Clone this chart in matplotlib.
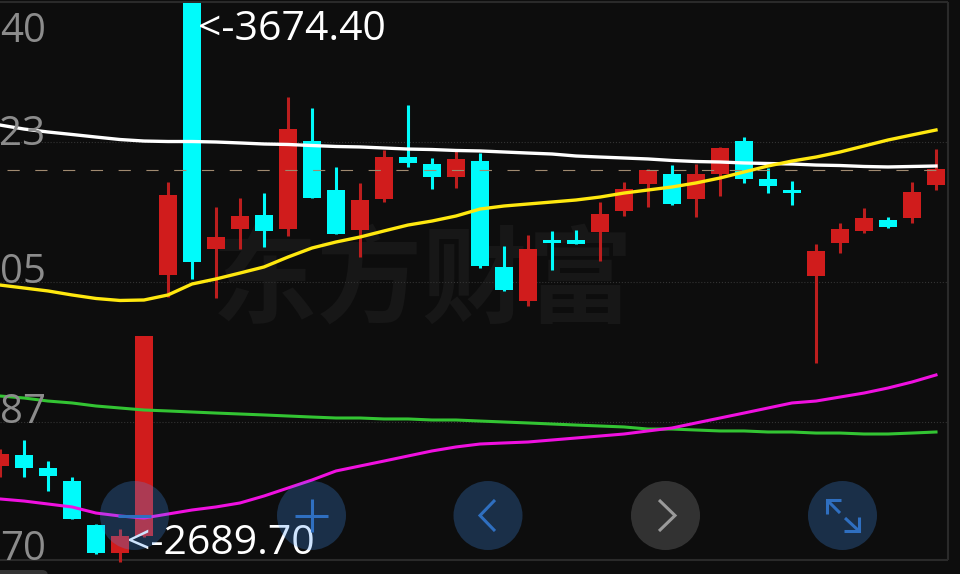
#!/usr/bin/env python3
"""Dark candlestick chart with four moving averages and touch buttons."""
import matplotlib
matplotlib.use("Agg")
import matplotlib.pyplot as plt
from matplotlib.patches import Circle, FancyBboxPatch

opens = [3482.0, 3483.38, 3481.75, 3480.12, 3474.62, 3471.12, 3473.25, 3505.88,
         3539.88, 3509.12, 3511.62, 3513.38, 3511.62, 3522.62, 3516.5, 3511.5,
         3515.38, 3520.62, 3519.75, 3518.12, 3520.12, 3506.88, 3502.62, 3510.25,
         3510.25, 3511.25, 3513.88, 3517.25, 3518.5, 3515.38, 3518.5, 3522.62,
         3517.88, 3516.5, 3505.75, 3509.88, 3511.38, 3512.75, 3513.0, 3517.12]
highs = [3484.12, 3485.25, 3482.62, 3480.62, 3474.75, 3474.12, 3498.25, 3517.5,
         3539.88, 3514.38, 3515.5, 3516.12, 3528.12, 3526.75, 3519.38, 3517.38,
         3521.5, 3527.12, 3520.5, 3521.62, 3521.12, 3509.5, 3510.88, 3511.38,
         3511.5, 3515.0, 3517.5, 3519.12, 3519.62, 3519.75, 3521.88, 3523.12,
         3519.25, 3517.62, 3509.75, 3512.38, 3514.25, 3513.12, 3517.5, 3521.62]
lows = [3480.62, 3480.62, 3478.88, 3475.38, 3471.0, 3470.0, 3473.12, 3503.12,
        3505.38, 3503.0, 3509.12, 3509.38, 3510.75, 3515.5, 3511.0, 3508.12,
        3515.0, 3519.38, 3516.62, 3516.75, 3506.75, 3503.88, 3502.0, 3506.5,
        3509.75, 3507.62, 3513.25, 3514.38, 3514.62, 3513.12, 3515.75, 3517.38,
        3516.12, 3514.62, 3494.88, 3508.62, 3511.12, 3511.75, 3512.38, 3516.5]
closes = [3483.5, 3481.75, 3480.75, 3475.38, 3471.12, 3473.25, 3498.25, 3515.88,
          3507.5, 3510.62, 3513.25, 3511.38, 3524.12, 3515.5, 3511.0, 3515.25,
          3520.62, 3519.88, 3518.12, 3520.38, 3507.0, 3504.0, 3509.12, 3509.88,
          3509.75, 3513.5, 3516.62, 3519.0, 3514.75, 3518.5, 3521.75, 3517.88,
          3517.0, 3516.12, 3508.88, 3511.62, 3513.0, 3511.88, 3516.25, 3519.12]

ma_white = [3524.62, 3524.12, 3523.75, 3523.44, 3523.12, 3522.81, 3522.62, 3522.56,
            3522.56, 3522.5, 3522.38, 3522.25, 3522.19, 3522.06, 3521.94, 3521.88,
            3521.75, 3521.62, 3521.56, 3521.44, 3521.38, 3521.25, 3521.12, 3521.0,
            3520.75, 3520.62, 3520.5, 3520.38, 3520.19, 3520.06, 3520.0, 3519.88,
            3519.81, 3519.75, 3519.62, 3519.56, 3519.44, 3519.38, 3519.44, 3519.5]
ma_yellow = [3504.62, 3504.25, 3503.88, 3503.38, 3502.94, 3502.69, 3502.75, 3503.38,
             3504.75, 3505.38, 3506.12, 3506.88, 3508.12, 3509.25, 3510.0, 3510.62,
             3511.38, 3512.12, 3512.62, 3513.25, 3514.12, 3514.5, 3514.75, 3515.0,
             3515.25, 3515.62, 3516.12, 3516.5, 3516.88, 3517.38, 3518.0, 3518.75,
             3519.5, 3520.12, 3520.62, 3521.25, 3522.0, 3522.75, 3523.38, 3524.0]
ma_green = [3490.75, 3490.5, 3490.12, 3489.88, 3489.5, 3489.25, 3489.0, 3488.88,
            3488.75, 3488.62, 3488.5, 3488.38, 3488.25, 3488.12, 3488.0, 3488.0,
            3487.88, 3487.88, 3487.75, 3487.75, 3487.62, 3487.5, 3487.38, 3487.25,
            3487.12, 3487.0, 3486.88, 3486.62, 3486.62, 3486.5, 3486.38, 3486.38,
            3486.25, 3486.25, 3486.12, 3486.12, 3486.0, 3486.0, 3486.12, 3486.25]
ma_magenta = [3477.88, 3477.62, 3477.25, 3476.88, 3476.12, 3475.75, 3475.5, 3476.0,
              3476.5, 3476.88, 3477.38, 3478.25, 3479.25, 3480.25, 3481.38, 3482.0,
              3482.62, 3483.25, 3483.88, 3484.38, 3484.75, 3484.88, 3485.0, 3485.25,
              3485.5, 3485.75, 3486.0, 3486.38, 3486.75, 3487.38, 3488.0, 3488.62,
              3489.25, 3489.88, 3490.12, 3490.62, 3491.12, 3491.75, 3492.5, 3493.38]

tick_labels = ["40", "23", "05", "87", "70"]
tick_baselines = [3535.0, 3522.12, 3504.88, 3487.38, 3470.25]
grid_levels = [3522.5, 3505.0, 3487.5]
last_price = 3519.0
label_high = "<-3674.40"
label_low = "<-2689.70"

BG = "#0d0d0d"
RED = "#d01c1c"
RED_WICK = "#bc1e1e"
CYAN = "#00fbfb"
FRAME = "#2a2a2a"
BLUE_ICON = "#2f6fc0"
FONT = ["Open Sans", "DejaVu Sans"]

fig = plt.figure(figsize=(9.6, 5.74), dpi=100, facecolor=BG)
ax = fig.add_axes([0, 0, 1, 1], facecolor=BG)
ax.set_xlim(0, 40)
ax.set_ylim(3468.5, 3540.25)
ax.axis("off")

ax.text(17.6, 3504.9, "东方财富", color="#171717", fontsize=76, fontweight="bold",
        family=["Noto Sans CJK SC", "DejaVu Sans"], ha="center", va="center", zorder=0)

# frame and level lines
ax.hlines(grid_levels, 0, 39.5, color="#333333", linewidth=0.8, linestyle=":", zorder=1)
ax.hlines([3539.95, 3470.25], 0, 39.5, color=FRAME, linewidth=1.5, zorder=1)
ax.vlines(39.5, 3470.25, 3539.95, color=FRAME, linewidth=1.5, zorder=1)

for i, (o, h, l, c) in enumerate(zip(opens, highs, lows, closes)):
    up = c > o
    ax.vlines(i, l, h, color=RED_WICK if up else CYAN, linewidth=2.2, zorder=2)
    ax.bar(i, max(abs(c - o), 0.35), bottom=min(o, c), width=0.79,
           color=RED if up else CYAN, linewidth=0, zorder=3)

ax.plot([0.3, 39.5], [last_price, last_price], color="#a08a70", linewidth=0.8,
        dashes=(11, 14), zorder=4)

xs = range(len(ma_white))
ax.plot(xs, ma_white, color="#ffffff", linewidth=2.4, zorder=5)
ax.plot(xs, ma_yellow, color="#ffe80f", linewidth=2.4, zorder=5)
ax.plot(xs, ma_green, color="#33c433", linewidth=2.2, zorder=5)
ax.plot(xs, ma_magenta, color="#f010e0", linewidth=2.2, zorder=5)

for text, y in zip(tick_labels, tick_baselines):
    ax.text(1.9, y, text, color="#8c8c8c", fontsize=29, family=FONT,
            ha="right", va="baseline", zorder=6)
ax.text(8.25, 3535.25, label_high, color="#ffffff", fontsize=29.5, family=FONT,
        ha="left", va="baseline", zorder=7)
ax.text(5.3, 3471.0, label_low, color="#ffffff", fontsize=29.5, family=FONT,
        ha="left", va="baseline", zorder=7)

# touch buttons sit above the chart, drawn in screen pixels
ui = fig.add_axes([0, 0, 1, 1])
ui.set_xlim(0, 960)
ui.set_ylim(574, 0)
ui.axis("off")
ui.patch.set_alpha(0)

for cx, col in [(134.5, "#4195f9"), (311.5, "#4195f9"), (488, "#4195f9"),
                (665.5, "#a4a4a4"), (842.5, "#4195f9")]:
    ui.add_patch(Circle((cx, 515.5), 34.5, facecolor=col, edgecolor="none", alpha=0.25))


def stroke(xx, yy, col=BLUE_ICON):
    ui.plot(xx, yy, color=col, linewidth=2.2, solid_capstyle="butt", solid_joinstyle="miter")


stroke([118, 151], [515.5, 515.5])
stroke([295, 328], [515.5, 515.5])
stroke([311.5, 311.5], [499, 532])
stroke([495, 480, 495], [500, 515.5, 531])
stroke([659, 675, 659], [500, 515.5, 531], "#9a9a9a")
stroke([841, 827, 827], [500, 500, 514])
stroke([827, 840], [500, 513])
stroke([844, 858.5, 858.5], [530.5, 530.5, 517])
stroke([858.5, 845], [530.5, 518])

ui.add_patch(FancyBboxPatch((-12, 570), 60, 12, boxstyle="round,pad=0,rounding_size=6",
                            facecolor="#333333", edgecolor="none"))

fig.savefig("out.png", dpi=100, facecolor=BG)
